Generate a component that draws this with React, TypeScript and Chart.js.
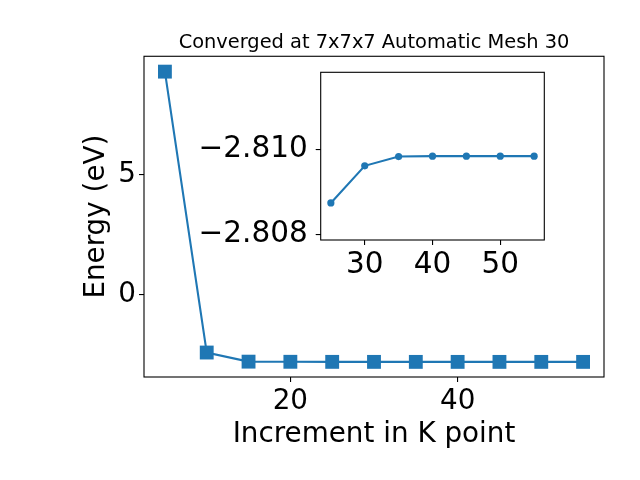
import React, { useEffect, useRef } from 'react';
import { Chart, registerables } from 'chart.js';

Chart.register(...registerables);

const kPoints = [5, 10, 15, 20, 25, 30, 35, 40, 45, 50, 55];
const energies = [9.29, -2.42, -2.8, -2.806, -2.80874, -2.80962, -2.80984, -2.80985, -2.80985, -2.80985, -2.80985];
const insetK = [25, 30, 35, 40, 45, 50, 55];
const insetEnergies = [-2.80874, -2.80962, -2.80984, -2.80985, -2.80985, -2.80985, -2.80985];
const mainXTicks = [20, 40];
const mainYTicks = [0, 5];
const insetXTicks = [30, 40, 50];
const insetYTicks = [-2.81, -2.808];
const titleText = 'Converged at 7x7x7 Automatic Mesh 30';
const xLabel = 'Increment in K point';
const yLabel = 'Energy (eV)';

const BLUE = '#1f77b4';
const FAMILY = 'DejaVu Sans';

const framePlugin = {
  id: 'frame',
  beforeDraw(chart: any, _a: any, opts: any) {
    if (opts && opts.fill) {
      const { left, top, right, bottom } = chart.chartArea;
      const ctx = chart.ctx;
      ctx.save();
      ctx.fillStyle = '#ffffff';
      ctx.fillRect(left, top, right - left, bottom - top);
      ctx.restore();
    }
  },
  afterDraw(chart: any) {
    const { left, top, right, bottom } = chart.chartArea;
    const ctx = chart.ctx;
    ctx.save();
    ctx.strokeStyle = '#000000';
    ctx.lineWidth = 1.1;
    ctx.strokeRect(left, top, right - left, bottom - top);
    ctx.restore();
  },
};

function zeroPad(s: any) {
  s.paddingTop = 0;
  s.paddingBottom = 0;
  s.paddingLeft = 0;
  s.paddingRight = 0;
}

function fmtMinus(v: number, digits: number) {
  const t = Math.abs(v).toFixed(digits);
  return v < 0 ? '\u2212' + t : t;
}

export default function App() {
  const mainRef = useRef<HTMLCanvasElement | null>(null);
  const insetRef = useRef<HTMLCanvasElement | null>(null);

  useEffect(() => {
    Chart.defaults.font.family = FAMILY;
    const tickFont = { family: FAMILY, size: 27.8 };
    const mainChart = new Chart(mainRef.current as HTMLCanvasElement, {
      type: 'line',
      data: {
        datasets: [
          {
            data: kPoints.map((k, i) => ({ x: k, y: energies[i] })),
            borderColor: BLUE,
            backgroundColor: BLUE,
            borderWidth: 2.1,
            pointStyle: 'rect',
            pointRadius: 9.8,
            pointBorderWidth: 0,
            tension: 0,
            clip: false as any,
          },
        ],
      },
      options: {
        responsive: false,
        animation: false,
        events: [],
        layout: { padding: { left: 0, right: 36, top: 0, bottom: 0 } },
        plugins: {
          legend: { display: false },
          tooltip: { enabled: false },
          title: {
            display: true,
            text: titleText,
            fullSize: false,
            color: '#000',
            font: { family: FAMILY, size: 19.4, weight: 'normal' },
            padding: { top: 31, bottom: 2 },
          },
          frame: { fill: false },
        } as any,
        scales: {
          x: {
            type: 'linear',
            min: 2.5,
            max: 57.5,
            afterBuildTicks: (s: any) => {
              s.ticks = mainXTicks.map((v) => ({ value: v }));
            },
            afterFit: (s: any) => {
              s.height = 103;
              zeroPad(s);
            },
            ticks: {
              color: '#000',
              font: tickFont,
              padding: 3,
              maxRotation: 0,
              callback: (v: any) => String(v),
            },
            grid: { drawOnChartArea: false, drawTicks: true, tickLength: 5, color: '#000', lineWidth: 1.1 },
            border: { display: false },
            title: {
              display: true,
              text: xLabel,
              color: '#000',
              font: { family: FAMILY, size: 27.8 },
              padding: { top: 0, bottom: 29 },
            },
          },
          y: {
            type: 'linear',
            min: -3.44,
            max: 9.93,
            afterBuildTicks: (s: any) => {
              s.ticks = mainYTicks.map((v) => ({ value: v }));
            },
            afterFit: (s: any) => {
              s.width = 144;
              zeroPad(s);
            },
            ticks: {
              color: '#000',
              font: tickFont,
              padding: 3,
              callback: (v: any) => fmtMinus(Number(v), 0),
            },
            grid: { drawOnChartArea: false, drawTicks: true, tickLength: 5, color: '#000', lineWidth: 1.1 },
            border: { display: false },
            title: {
              display: true,
              text: yLabel,
              color: '#000',
              font: { family: FAMILY, size: 27.8 },
              padding: { top: 80, bottom: 0 },
            },
          },
        },
      },
      plugins: [framePlugin],
    });

    const insetFont = { family: FAMILY, size: 29.5 };
    const insetChart = new Chart(insetRef.current as HTMLCanvasElement, {
      type: 'line',
      data: {
        datasets: [
          {
            data: insetK.map((k, i) => ({ x: k, y: insetEnergies[i] })),
            borderColor: BLUE,
            backgroundColor: BLUE,
            borderWidth: 2.1,
            pointStyle: 'circle',
            pointRadius: 3.6,
            pointBorderWidth: 0,
            tension: 0,
          },
        ],
      },
      options: {
        responsive: false,
        animation: false,
        events: [],
        layout: { padding: { left: 0, right: 15.7, top: 12.3, bottom: 0 } },
        plugins: {
          legend: { display: false },
          tooltip: { enabled: false },
          title: { display: false },
          frame: { fill: true },
        } as any,
        scales: {
          x: {
            type: 'linear',
            min: 23.5,
            max: 56.5,
            afterBuildTicks: (s: any) => {
              s.ticks = insetXTicks.map((v) => ({ value: v }));
            },
            afterFit: (s: any) => {
              s.height = 50;
              zeroPad(s);
            },
            ticks: {
              color: '#000',
              font: insetFont,
              padding: 3,
              maxRotation: 0,
              callback: (v: any) => String(v),
            },
            grid: { drawOnChartArea: false, drawTicks: true, tickLength: 5, color: '#000', lineWidth: 1.1 },
            border: { display: false },
          },
          y: {
            type: 'linear',
            reverse: true,
            min: -2.81184,
            max: -2.80786,
            afterBuildTicks: (s: any) => {
              s.ticks = insetYTicks.map((v) => ({ value: v }));
            },
            afterFit: (s: any) => {
              s.width = 140.7;
              zeroPad(s);
            },
            ticks: {
              color: '#000',
              font: insetFont,
              padding: 8,
              callback: (v: any) => fmtMinus(Number(v), 3),
            },
            grid: { drawOnChartArea: false, drawTicks: true, tickLength: 5, color: '#000', lineWidth: 1.1 },
            border: { display: false },
          },
        },
      },
      plugins: [framePlugin],
    });

    return () => {
      mainChart.destroy();
      insetChart.destroy();
    };
  }, []);

  return (
    <div style={{ position: 'absolute', left: 0, top: 0, width: 640, height: 480, background: '#fff' }}>
      <canvas ref={mainRef} width={640} height={480} style={{ position: 'absolute', left: 0, top: 0, width: 640, height: 480 }} />
      <canvas ref={insetRef} width={380} height={230} style={{ position: 'absolute', left: 180, top: 60, width: 380, height: 230 }} />
    </div>
  );
}
